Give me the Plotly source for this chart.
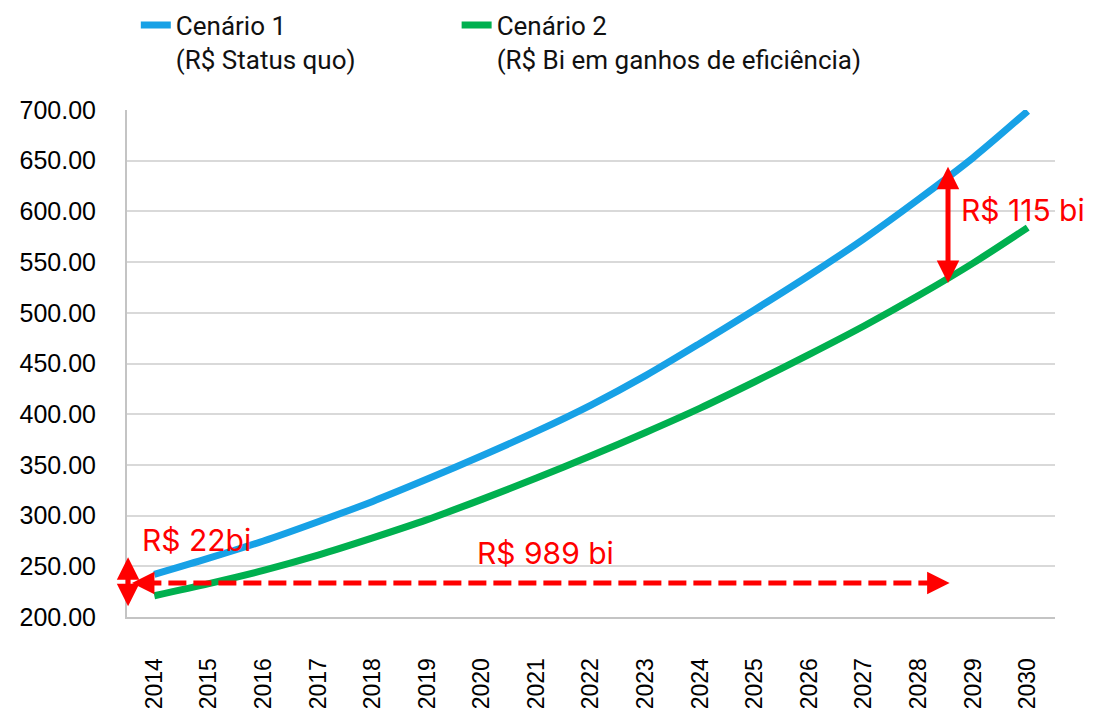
import plotly.graph_objects as go

years = [str(y) for y in range(2014, 2031)]
cenario1 = [242, 258, 275, 294, 314, 336, 359, 383, 409, 438, 470, 503, 537, 573, 612, 653, 699]
cenario2 = [221, 233, 246, 261, 278, 296, 316, 337, 359, 382, 406, 432, 459, 487, 517, 549, 584]
y_ticks = [200, 250, 300, 350, 400, 450, 500, 550, 600, 650, 700]

name1 = "Cenário 1<br>(R$ Status quo)"
name2 = "Cenário 2<br>(R$ Bi em ganhos de eficiência)"
blue = "#17a1e6"
green = "#00b04f"
red = "#ff0000"

fig = go.Figure()
fig.add_trace(go.Scatter(x=years, y=cenario1, mode="lines", name=name1, legend="legend",
                         line=dict(color=blue, width=7, shape="spline", smoothing=0.8)))
fig.add_trace(go.Scatter(x=years, y=cenario2, mode="lines", name=name2, legend="legend2",
                         line=dict(color=green, width=7, shape="spline", smoothing=0.8)))

ann_font = dict(family="Inter, Roboto, sans-serif", size=30, color=red)

# dashed horizontal double arrow
fig.add_shape(type="line", xref="x", yref="y", x0=-0.2, x1=14.35, y0=233.5, y1=233.5,
              line=dict(color=red, width=5, dash="18px,7px"))
annotations = [
    dict(x=14.57, y=233.5, ax=-22, ay=0, text="", showarrow=True, arrowhead=2,
         arrowsize=0.9, arrowwidth=5, arrowcolor=red, xref="x", yref="y"),
    dict(x=-0.41, y=233.5, ax=22, ay=0, text="", showarrow=True, arrowhead=2,
         arrowsize=0.9, arrowwidth=5, arrowcolor=red, xref="x", yref="y"),
    # left vertical double arrow
    dict(x=-0.48, y=259, ax=-0.48, ay=209, axref="x", ayref="y", text="", showarrow=True,
         arrowhead=2, arrowside="end+start", arrowsize=0.9, arrowwidth=5, arrowcolor=red,
         xref="x", yref="y"),
    # right vertical double arrow
    dict(x=14.54, y=644, ax=14.54, ay=528, axref="x", ayref="y", text="", showarrow=True,
         arrowhead=2, arrowside="end+start", arrowsize=0.9, arrowwidth=5, arrowcolor=red,
         xref="x", yref="y"),
    dict(x=-0.26, y=276, text="R$ 22bi", showarrow=False, xanchor="left", yanchor="middle",
         font=ann_font, xref="x", yref="y"),
    dict(x=5.87, y=263, text="R$ 989 bi", showarrow=False, xanchor="left", yanchor="middle",
         font=ann_font, xref="x", yref="y"),
    dict(x=14.74, y=601, text="R$ 115 bi", showarrow=False, xanchor="left", yanchor="middle",
         font=ann_font, xref="x", yref="y"),
]

legend_font = dict(family="Roboto, sans-serif", size=26, color="#111111")

fig.update_layout(
    width=1094, height=711,
    margin=dict(l=127, r=39, t=110, b=94, autoexpand=False),
    paper_bgcolor="white", plot_bgcolor="white",
    annotations=annotations,
    showlegend=True,
    legend=dict(orientation="h", x=0.0095, y=1.214, xanchor="left", yanchor="top",
                font=legend_font, valign="top", bgcolor="rgba(0,0,0,0)"),
    legend2=dict(orientation="h", x=0.3552, y=1.214, xanchor="left", yanchor="top",
                 font=legend_font, valign="top", bgcolor="rgba(0,0,0,0)"),
    xaxis=dict(type="category", range=[-0.5, 16.5], showgrid=False, showline=True,
               linecolor="#c4c4c4", linewidth=2, tickangle=-90, ticks="",
               ticklabelstandoff=30,
               tickfont=dict(family="Liberation Sans, Arial, sans-serif", size=23, color="#000000"),
               fixedrange=True),
    yaxis=dict(range=[200, 700], tickvals=y_ticks, tickformat=".2f", showgrid=True,
               gridcolor="#d9d9d9", gridwidth=2, showline=True, linecolor="#c4c4c4",
               linewidth=2, zeroline=False, ticks="", ticklabelstandoff=24,
               tickfont=dict(family="Liberation Sans, Arial, sans-serif", size=25, color="#000000"),
               fixedrange=True),
)

fig.write_html("out.html", config={"displayModeBar": False},
               post_script="document.body.style.margin='0';document.body.style.overflow='hidden';")
